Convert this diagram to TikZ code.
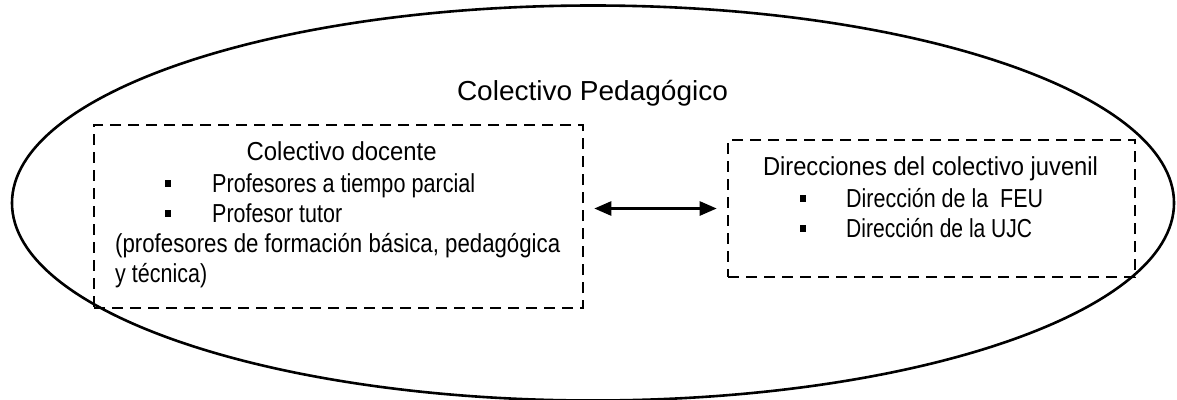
\documentclass[tikz,border=0pt]{standalone}
\usepackage{fontspec}
\setmainfont{Liberation Sans}
\usepackage{graphicx}
\usetikzlibrary{shapes.geometric,arrows.meta}
\newcommand\fw[2]{\resizebox{#1}{\height}{#2}}
\newcommand\blt{\raisebox{5pt}{\rule{6pt}{7pt}}}
\begin{document}
\begin{tikzpicture}[x=1pt,y=-1pt,
  txt/.style={inner sep=0pt,anchor=base west,font=\fontsize{26}{30}\selectfont},
  txtc/.style={inner sep=0pt,anchor=base,font=\fontsize{26}{30}\selectfont},
  dbox/.style={draw,line width=2.6pt,dash pattern=on 11pt off 7pt,inner sep=0pt},
  arr/.style={line width=2.6pt,{Triangle[length=17pt,width=14pt]}-{Triangle[length=17pt,width=14pt]}}]
\useasboundingbox (0,0) rectangle (1177,399);
\node[ellipse,draw,line width=2.6pt,inner sep=0pt,minimum width=1162pt,minimum height=395pt] (ell) at (593,203) {};
\node[inner sep=0pt,anchor=base,font=\fontsize{27.5}{32}\selectfont] (title) at (592.5,100) {\fw{271pt}{Colectivo Pedagógico}};
\node[dbox,minimum width=489pt,minimum height=183pt] (docente) at (338.5,216.5) {};
\node[dbox,minimum width=407pt,minimum height=137pt] (juvenil) at (931.5,208.5) {};
% left box texts
\node[txtc] (d0) at (341.7,160) {\fw{190pt}{Colectivo docente}};
\node[txt] (b1) at (165,192) {\blt};
\node[txt] (d1) at (212,192) {\fw{263pt}{Profesores a tiempo parcial}};
\node[txt] (b2) at (165,222) {\blt};
\node[txt] (d2) at (212,222) {\fw{130pt}{Profesor tutor}};
\node[txt] (d3) at (115,252) {\fw{445pt}{(profesores de formación básica, pedagógica}};
\node[txt] (d4) at (115,282) {\fw{92pt}{y técnica)}};
% right box texts
\node[txtc] (j0) at (930.5,175) {\fw{335pt}{Direcciones del colectivo juvenil}};
\node[txt] (c1) at (799.5,207) {\blt};
\node[txt] (j1) at (846,207) {\fw{197pt}{Dirección de la\ \ FEU}};
\node[txt] (c2) at (799.5,237) {\blt};
\node[txt] (j2) at (846,237) {\fw{186pt}{Dirección de la UJC}};
% arrow
\draw[arr,shorten <=10pt,shorten >=10pt] (juvenil.west -| docente.east) -- (juvenil.west);
\end{tikzpicture}
\end{document}
